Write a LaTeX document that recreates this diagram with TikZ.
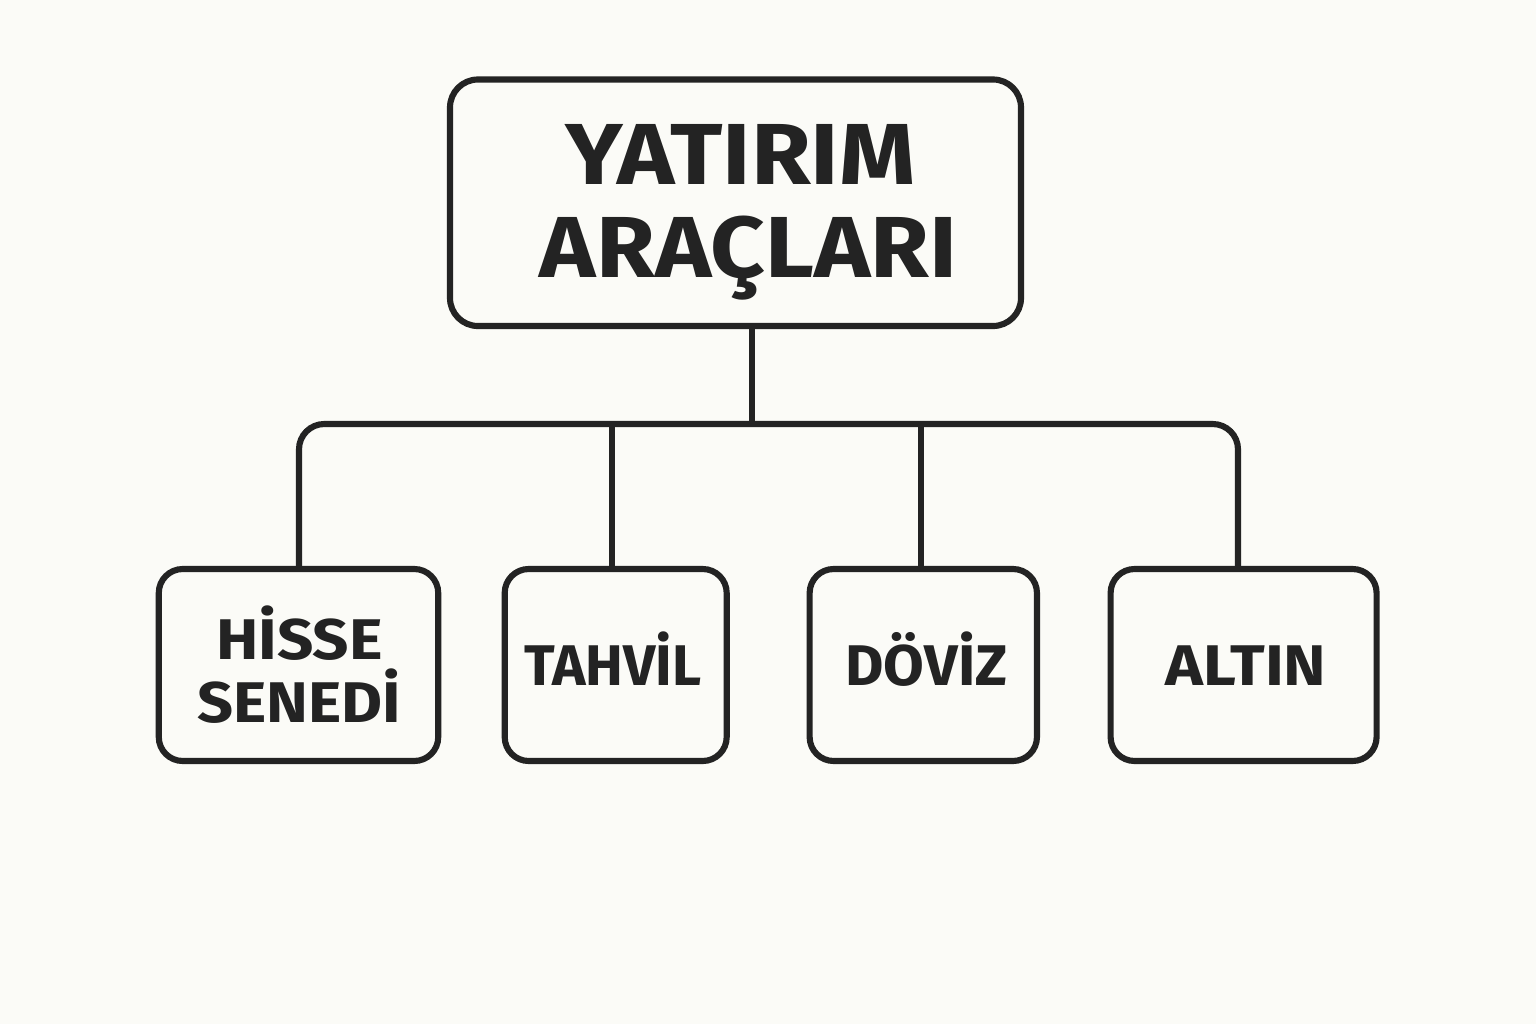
\documentclass[tikz,border=0pt]{standalone}
\usepackage{fontspec}
\usepackage{graphicx}
\setmainfont{Fira Sans}
\definecolor{ink}{HTML}{232323}
\definecolor{paper}{HTML}{FBFBF7}
\newcommand{\widen}[2]{\scalebox{#1}[1]{#2}}
\begin{document}
\begin{tikzpicture}[x=0.75pt,y=-0.75pt,
  box/.style={draw=ink, line width=4.6pt, inner sep=0pt},
  wire/.style={draw=ink, line width=4.6pt},
  big/.style={font=\fontsize{65}{78}\selectfont\bfseries, text=ink, anchor=base, inner sep=0pt},
  small/.style={font=\fontsize{43}{52}\selectfont\bfseries, text=ink, anchor=base, inner sep=0pt}]
\fill[paper] (0,0) rectangle (1536,1024);
\useasboundingbox (0,0) rectangle (1536,1024);
% boxes
\node[box, rounded corners=21pt, minimum width=428.25pt, minimum height=184.9pt] (top) at (735.5,202.75) {};
\node[box, rounded corners=18pt, minimum width=209.6pt, minimum height=144pt] (hisse) at (298.5,665) {};
\node[box, rounded corners=18pt, minimum width=166.5pt, minimum height=144pt] (tahvil) at (615.7,665) {};
\node[box, rounded corners=18pt, minimum width=170.5pt, minimum height=144pt] (doviz) at (923.3,665) {};
\node[box, rounded corners=18pt, minimum width=199.5pt, minimum height=144pt] (altin) at (1243.6,665) {};
% texts
\node[big] (t1) at (740.5,185) {\widen{1.12}{YATIRIM}};
\node[big] (t2) at (748.5,277) {\widen{1.10}{ARAÇLARI}};
\node[small] (h1) at (299.5,659) {\widen{1.11}{HİSSE}};
\node[small] (h2) at (299,722) {\widen{1.10}{SENEDİ}};
\node[small] (tt) at (613,685) {\widen{0.99}{TAHVİL}};
\node[small] (dt) at (926.5,685) {\widen{1.03}{DÖVİZ}};
\node[small] (at) at (1246,685) {\widen{1.12}{ALTIN}};
% connectors
\coordinate (bus) at (752,424);
\coordinate (d1) at (299,424);
\coordinate (d2) at (612,424);
\coordinate (d3) at (921,424);
\coordinate (d4) at (1238,424);
\draw[wire] (top.south -| bus) -- (bus);
\draw[wire, rounded corners=19pt] (d1 |- hisse.north) -- (d1) -- (d4) -- (d4 |- altin.north);
\draw[wire] (d2) -- (d2 |- tahvil.north);
\draw[wire] (d3) -- (d3 |- doviz.north);
\end{tikzpicture}
\end{document}
